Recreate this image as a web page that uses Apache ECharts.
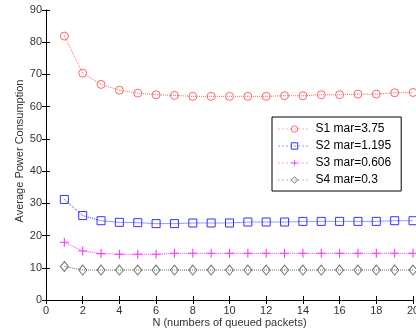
<!DOCTYPE html>
<html>
<head>
<meta charset="utf-8">
<script src="https://cdn.jsdelivr.net/npm/echarts@6/dist/echarts.min.js"></script>
<style>
  html, body { margin: 0; padding: 0; background: #fff; }
  #chart { width: 416px; height: 331px; }
</style>
</head>
<body>
<div id="chart"></div>
<script>
// N values (queued packets)
var nValues = [1, 2, 3, 4, 5, 6, 7, 8, 9, 10, 11, 12, 13, 14, 15, 16, 17, 18, 19, 20];
// series
var s1 = [81.9, 70.4, 66.9, 65.1, 64.2, 63.7, 63.5, 63.2, 63.2, 63.2, 63.2, 63.2, 63.4, 63.4, 63.7, 63.7, 63.9, 63.9, 64.3, 64.4];
var s2 = [31.2, 26.2, 24.6, 24.1, 24.0, 23.7, 23.7, 23.9, 23.9, 23.9, 24.2, 24.2, 24.2, 24.4, 24.4, 24.4, 24.4, 24.4, 24.6, 24.6];
var s3 = [17.9, 15.2, 14.4, 14.2, 14.2, 14.2, 14.5, 14.5, 14.5, 14.5, 14.5, 14.5, 14.5, 14.5, 14.5, 14.5, 14.5, 14.5, 14.5, 14.5];
var s4 = [10.4, 9.3, 9.3, 9.3, 9.3, 9.3, 9.3, 9.3, 9.3, 9.3, 9.3, 9.3, 9.3, 9.3, 9.3, 9.3, 9.3, 9.3, 9.3, 9.3];
var seriesNames = ['S1 mar=3.75', 'S2 mar=1.195', 'S3 mar=0.606', 'S4 mar=0.3'];

var font = 'Liberation Sans, Arial, sans-serif';
var plusPath = 'path://M-0.6,-5 L0.6,-5 L0.6,-0.6 L5,-0.6 L5,0.6 L0.6,0.6 L0.6,5 L-0.6,5 L-0.6,0.6 L-5,0.6 L-5,-0.6 L-0.6,-0.6 Z';

function pairs(arr) {
  return arr.map(function (v, i) { return [nValues[i], v]; });
}

function mkSeries(name, data, color, symbol, size, filled) {
  return {
    name: name,
    type: 'line',
    data: pairs(data),
    symbol: symbol,
    symbolSize: size,
    showSymbol: true,
    lineStyle: { color: color, width: 1, type: 'dotted' },
    itemStyle: filled ? { color: color, borderWidth: 0 } : { color: 'rgba(255,255,255,0)', borderColor: color, borderWidth: 1 },
    emphasis: { disabled: true },
    animation: false
  };
}

var axisLine = { show: true, lineStyle: { color: '#000', width: 1 } };
var tickIn = { show: true, inside: true, length: 4, lineStyle: { color: '#000' } };
var lbl = { color: '#333', fontSize: 11, fontFamily: font };

var myEcharts = echarts.init(document.getElementById('chart'));
myEcharts.setOption({
  backgroundColor: '#fff',
  animation: false,
  grid: { left: 46, right: 3, top: 10, bottom: 31, outerBoundsMode: 'none', containLabel: false },
  legend: {
    data: seriesNames,
    orient: 'vertical',
    left: 272,
    top: 117,
    width: 118,
    padding: [6, 10, 5, 6],
    itemWidth: 32,
    itemHeight: 8,
    itemGap: 5,
    borderColor: '#000',
    borderWidth: 1,
    backgroundColor: '#fff',
    lineStyle: { width: 1, type: [1, 3] },
    itemStyle: { borderWidth: 1 },
    textStyle: { color: '#000', fontSize: 12, fontFamily: font }
  },
  xAxis: [
    {
      type: 'value', min: 0, max: 20, interval: 2,
      name: 'N (numbers of queued packets)', nameLocation: 'middle', nameGap: 17, nameMoveOverlap: false,
      nameTextStyle: { color: '#333', fontSize: 11, fontFamily: font },
      axisLine: axisLine, axisTick: tickIn, axisLabel: Object.assign({ margin: 5 }, lbl),
      splitLine: { show: false }
    },
    {
      type: 'value', min: 0, max: 20, interval: 2, position: 'top',
      axisLine: axisLine, axisTick: tickIn, axisLabel: { show: false }, splitLine: { show: false }
    }
  ],
  yAxis: [
    {
      type: 'value', min: 0, max: 90, interval: 10,
      name: 'Average Power Consumption', nameLocation: 'middle', nameGap: 21, nameMoveOverlap: false,
      nameTextStyle: { color: '#333', fontSize: 11, fontFamily: font, padding: [0, 0, 0, 8] },
      axisLine: axisLine, axisTick: tickIn, axisLabel: Object.assign({ margin: 4 }, lbl),
      splitLine: { show: false }
    },
    {
      type: 'value', min: 0, max: 90, interval: 10, position: 'right',
      axisLine: axisLine, axisTick: tickIn, axisLabel: { show: false }, splitLine: { show: false }
    }
  ],
  series: [
    mkSeries(seriesNames[0], s1, '#ff6666', 'circle', 8, false),
    mkSeries(seriesNames[1], s2, '#3333ff', 'rect', 8, false),
    mkSeries(seriesNames[2], s3, '#ff33ff', plusPath, 9, true),
    mkSeries(seriesNames[3], s4, '#707070', 'diamond', [8, 10], false)
  ]
});
window.addEventListener('resize', function () {
  myEcharts.resize();
});
</script>
</body>
</html>
